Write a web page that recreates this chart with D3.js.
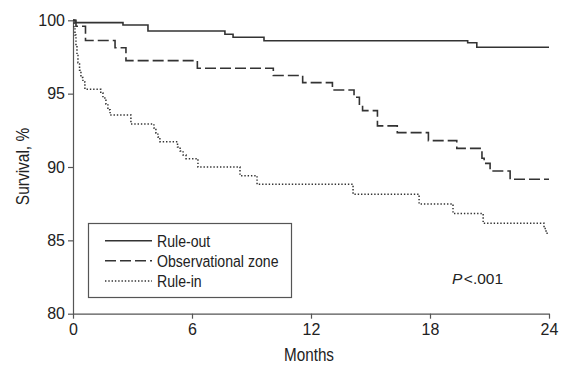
<!DOCTYPE html>
<html>
<head>
<meta charset="utf-8">
<script src="https://cdn.jsdelivr.net/npm/d3@7"></script>
<style>
  html, body { margin: 0; padding: 0; background: #fff; }
  svg { display: block; }
</style>
</head>
<body>
<svg id="chart" width="563" height="365"></svg>
<script>
// Kaplan-Meier survival estimates by group (months, survival %)
const ruleOutMonths = [0, 0.1, 2.52, 3.78, 7.66, 8.07, 9.63, 19.9, 20.36, 24];
const ruleOutSurv   = [100, 99.84, 99.68, 99.27, 99.05, 98.84, 98.61, 98.47, 98.16, 98.16];

const obsMonths = [0, 0.15, 0.63, 2.12, 2.67, 6.27, 10.1, 11.58, 13.08, 14.17, 14.44, 14.6, 15.35, 16.35, 17.92, 19.35, 20.62, 20.73, 21.03, 22.04, 24];
const obsSurv   = [100, 99.59, 98.62, 98.13, 97.25, 96.73, 96.24, 95.75, 95.25, 94.75, 94.23, 93.84, 92.8, 92.34, 91.8, 91.27, 90.6, 90.25, 89.73, 89.16, 89.16];

const ruleInMonths = [0, 0.05, 0.1, 0.15, 0.2, 0.25, 0.33, 0.4, 0.5, 0.6, 1.4, 1.51, 1.66, 1.76, 1.87, 2.92, 4.08, 4.18, 4.28, 4.38, 5.27, 5.4, 5.55, 5.7, 6.3, 8.42, 9.28, 14.12, 17.45, 19.16, 20.68, 23.75, 23.85, 24];
const ruleInSurv   = [100, 99.5, 99.0, 98.3, 97.6, 97.1, 96.6, 96.1, 95.8, 95.3, 95.04, 94.7, 94.3, 93.9, 93.54, 92.93, 92.66, 92.32, 92.05, 91.72, 91.36, 91.09, 90.82, 90.57, 90.0, 89.41, 88.82, 88.14, 87.48, 86.83, 86.16, 85.8, 85.48, 85.48];

const seriesNames = ["Rule-out", "Observational zone", "Rule-in"];
const xTicks = [0, 6, 12, 18, 24];
const yTicks = [80, 85, 90, 95, 100];
const pLabel = "<.001";

const FONT = "'Liberation Sans', Arial, sans-serif";
const svg = d3.select("#chart");
const x = d3.scaleLinear().domain([0, 24]).range([73, 549]);
const y = d3.scaleLinear().domain([80, 100]).range([313.7, 20.3]);

const axisColor = "#555";
const lineColor = "#333";
const textColor = "#222";

// condensed label: regular face squeezed along the text direction
function condensed(parent, tx, ty, txt, size, squeeze, anchor, angle) {
  const g = parent.append("g")
    .attr("transform", `translate(${tx},${ty}) rotate(${angle || 0}) scale(${squeeze},1)`);
  return g.append("text")
    .attr("font-family", FONT).attr("font-size", size).attr("fill", textColor)
    .attr("text-anchor", anchor || "start").text(txt);
}

// axes
const gx = svg.append("g").attr("transform", `translate(0,${y(80)})`)
  .call(d3.axisBottom(x).tickValues(xTicks).tickFormat(d3.format("d")).tickSize(5).tickSizeOuter(0).tickPadding(5));
const gy = svg.append("g").attr("transform", `translate(${x(0)},0)`)
  .call(d3.axisLeft(y).tickValues(yTicks).tickFormat(d3.format("d")).tickSize(5).tickSizeOuter(0).tickPadding(3));
[gx, gy].forEach(g => {
  g.attr("font-family", FONT).attr("font-size", 16);
  g.selectAll(".tick text").attr("fill", textColor);
  g.select(".domain").attr("stroke", axisColor).attr("stroke-width", 1.2);
  g.selectAll(".tick line").attr("stroke", axisColor).attr("stroke-width", 1.2);
});

// survival curves
const styles = [
  { months: ruleOutMonths, surv: ruleOutSurv, dash: null, width: 1.6 },
  { months: obsMonths, surv: obsSurv, dash: "11,4", width: 1.6 },
  { months: ruleInMonths, surv: ruleInSurv, dash: "1.4,1.9", width: 1.5 }
];
const line = d3.line().x(d => x(d[0])).y(d => y(d[1])).curve(d3.curveStepAfter);
styles.forEach(s => {
  const pts = s.months.map((m, i) => [m, s.surv[i]]);
  svg.append("path").datum(pts)
    .attr("d", line)
    .attr("fill", "none")
    .attr("stroke", lineColor)
    .attr("stroke-width", s.width)
    .attr("stroke-dasharray", s.dash);
});

// legend
const lg = svg.append("g");
lg.append("rect").attr("x", 88.5).attr("y", 223.5).attr("width", 203).attr("height", 74)
  .attr("fill", "#fff").attr("stroke", axisColor).attr("stroke-width", 1.2);
const rowY = [240.7, 260.7, 281];
seriesNames.forEach((name, i) => {
  lg.append("line").attr("x1", 105).attr("x2", 152).attr("y1", rowY[i]).attr("y2", rowY[i])
    .attr("stroke", lineColor).attr("stroke-width", styles[i].width)
    .attr("stroke-dasharray", styles[i].dash);
  condensed(lg, 157, rowY[i] + 6.1, name, 17, 0.83);
});

// p-value annotation
const pt = svg.append("text").attr("x", 452).attr("y", 283.5)
  .attr("font-family", FONT).attr("font-size", 15.5).attr("fill", textColor);
pt.append("tspan").attr("font-style", "italic").text("P");
pt.append("tspan").attr("dx", 1.5).text(pLabel);

// axis titles
condensed(svg, 309, 360.5, "Months", 17.5, 0.87, "middle");
condensed(svg, 29, 166.5, "Survival, %", 18, 0.86, "middle", -90);
</script>
</body>
</html>
